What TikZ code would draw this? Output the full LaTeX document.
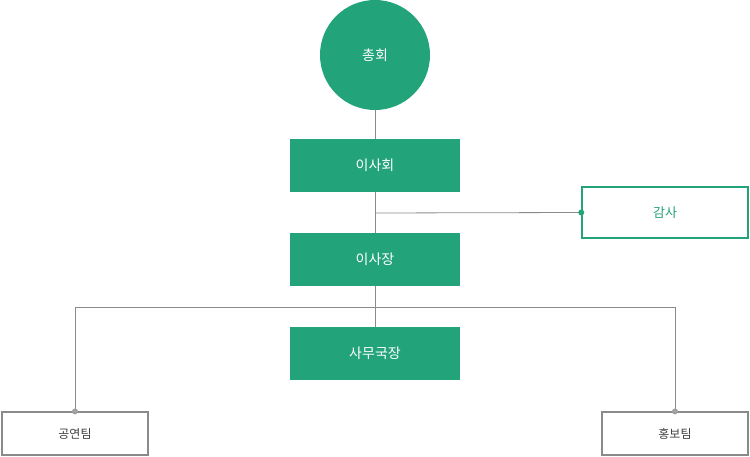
\documentclass[tikz,border=0pt]{standalone}
\usepackage{fontspec}
\setmainfont{Noto Sans CJK KR}
\definecolor{grn}{HTML}{22A37A}
\definecolor{ln}{HTML}{8A8A8A}
\begin{document}
\begin{tikzpicture}[x=1pt,y=-1pt,
  gbox/.style={fill=grn,text=white,minimum width=170pt,minimum height=53pt,inner sep=0,font=\fontsize{14}{16}\selectfont},
  wbox/.style={draw=grn,line width=1.5pt,fill=white,text=grn,minimum width=166pt,minimum height=51pt,inner sep=0,font=\fontsize{13}{16}\selectfont},
  qbox/.style={draw=ln,line width=1.2pt,fill=white,text=black!75,minimum width=146pt,minimum height=43pt,inner sep=0,font=\fontsize{12}{15}\selectfont},
  conn/.style={draw=ln,line width=0.8pt},
  dotg/.style={circle,fill=grn,inner sep=0,minimum size=6pt},
  dotq/.style={circle,fill=ln!80,inner sep=0,minimum size=6pt}]
\useasboundingbox (0,0) rectangle (750,457);
\node[circle,fill=grn,text=white,minimum size=110pt,inner sep=0,font=\fontsize{14}{16}\selectfont] (chong) at (375,55) {총회};
\node[gbox] (isahoe) at (375,165.5) {이사회};
\node[gbox] (isajang) at (375,259.5) {이사장};
\node[gbox] (samu) at (375,353.5) {사무국장};
\node[wbox] (gamsa) at (665,212.5) {감사};
\node[qbox] (gong) at (75,433.5) {공연팀};
\node[qbox] (hong) at (675,433.5) {홍보팀};
\coordinate (j1) at (375,213);
\coordinate (j2) at (375,307);
\draw[conn] (chong.south) -- (isahoe.north);
\draw[conn] (isahoe.south) -- (isajang.north);
\draw[conn] (j1) -- (gamsa.west);
\draw[conn] (isajang.south) -- (samu.north);
\draw[conn] (j2) -| (gong.north);
\draw[conn] (j2) -| (hong.north);
\node[dotg] (d1) at (gamsa.west) {};
\node[dotq] (d2) at (gong.north) {};
\node[dotq] (d3) at (hong.north) {};
\end{tikzpicture}
\end{document}
